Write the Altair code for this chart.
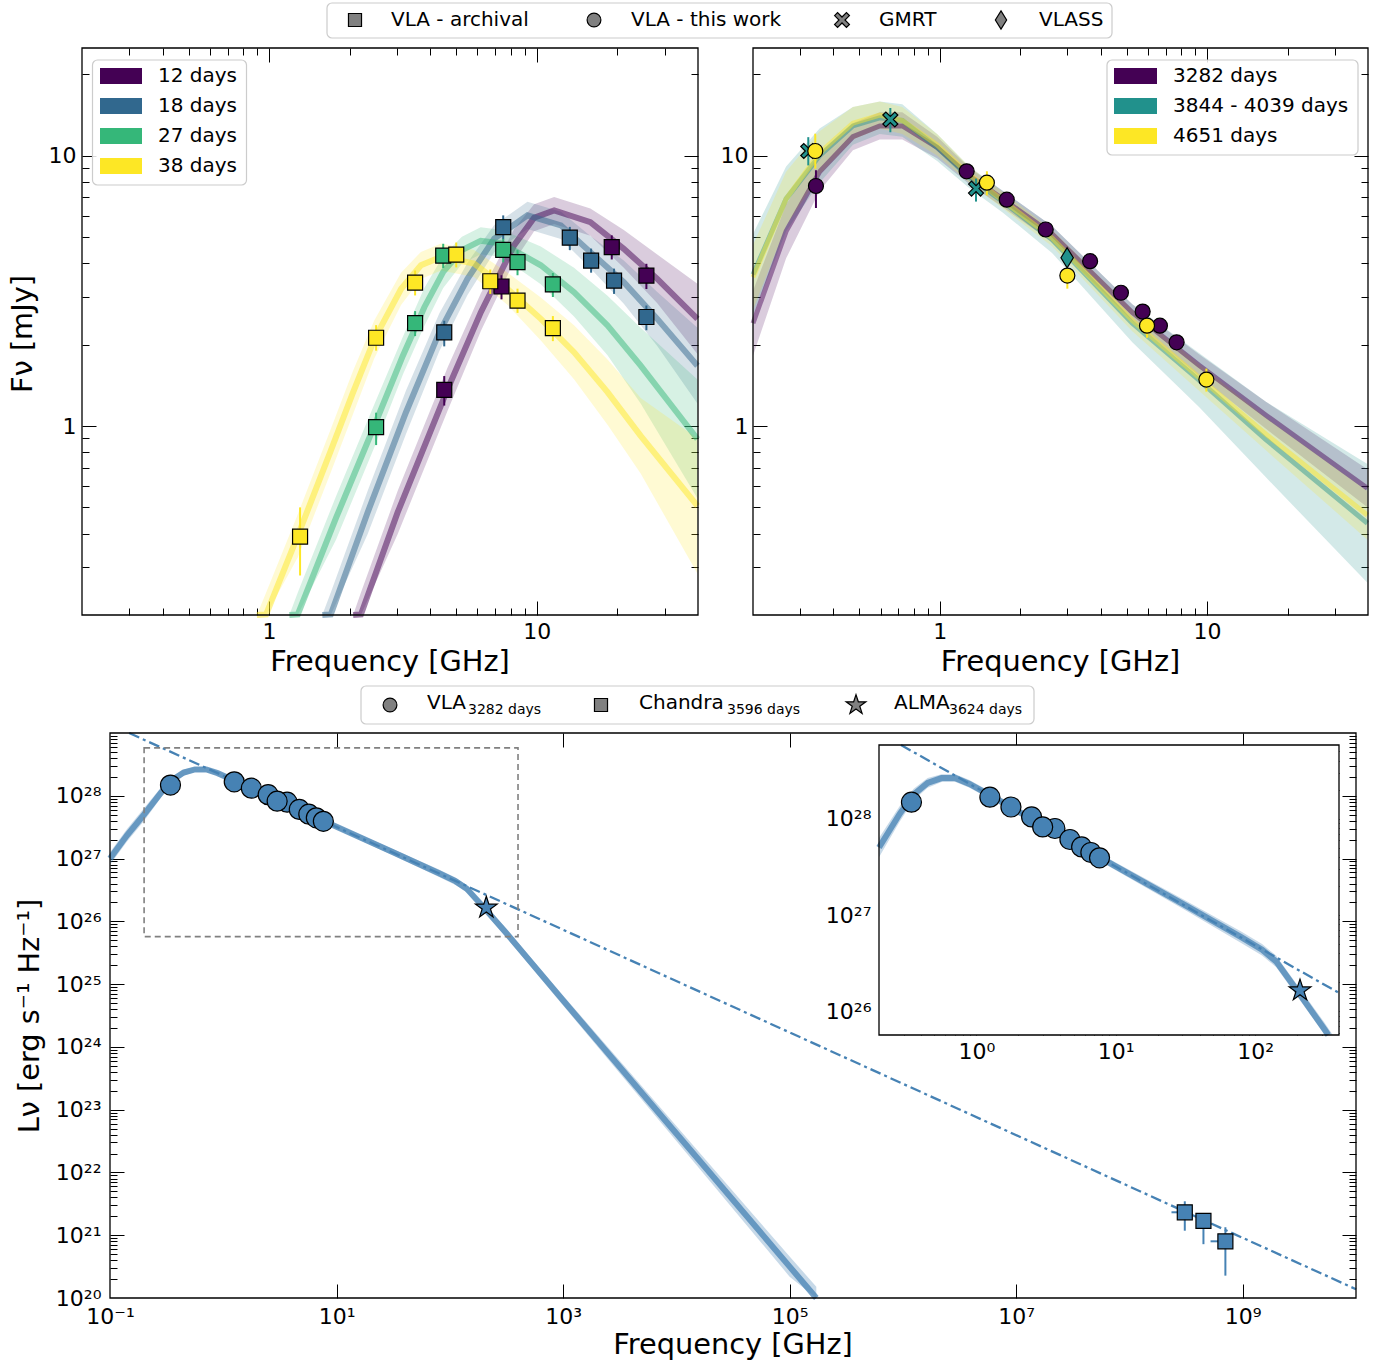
import altair as alt
import pandas as pd

W, H = 1382, 1364
FONT = "DejaVu Sans"

# ======================= DATA =======================
# ---------- top-left panel: early epochs (VLA archival) ----------
TL_EPOCHS = ["12 days", "18 days", "27 days", "38 days"]
TL_COLORS = ["#440154", "#31688e", "#35b779", "#fde725"]

tl12_nu = [4.51, 7.38, 19.05, 25.66]
tl12_F = [1.36, 3.28, 4.59, 3.60]
tl12_lo = [1.19, 2.94, 4.13, 3.21]
tl12_hi = [1.53, 3.61, 5.07, 3.98]

tl18_nu = [4.51, 7.49, 13.28, 15.95, 19.43, 25.66]
tl18_F = [2.22, 5.44, 4.97, 4.09, 3.45, 2.53]
tl18_lo = [1.97, 4.90, 4.47, 3.69, 3.08, 2.26]
tl18_hi = [2.45, 6.01, 5.45, 4.53, 3.82, 2.79]

tl27_nu = [2.51, 3.51, 4.47, 7.49, 8.47, 11.48]
tl27_F = [0.99, 2.40, 4.27, 4.48, 4.04, 3.34]
tl27_lo = [0.85, 2.15, 3.84, 4.03, 3.61, 3.00]
tl27_hi = [1.12, 2.66, 4.72, 4.92, 4.47, 3.68]

tl38_nu = [1.305, 2.51, 3.51, 5.0, 6.70, 8.47, 11.48]
tl38_F = [0.39, 2.12, 3.39, 4.30, 3.43, 2.91, 2.30]
tl38_lo = [0.28, 1.90, 3.04, 3.86, 3.08, 2.62, 2.06]
tl38_hi = [0.50, 2.36, 3.76, 4.77, 3.79, 3.22, 2.55]

# model bundles (centre line and spread)
c12_nu = [2.06, 2.203, 3.02, 4.645, 6.18, 8.22, 9.77, 11.61, 15.85, 21.13, 28.18, 39.8]
c12_F = [0.170, 0.201, 0.479, 1.371, 2.636, 4.656, 5.888, 6.266, 5.675, 4.519, 3.50, 2.489]
c12_lo = [0.142, 0.1675, 0.398, 1.140, 2.244, 4.055, 5.248, 5.585, 5.058, 3.846, 2.844, 1.845]
c12_hi = [0.200, 0.242, 0.575, 1.648, 3.097, 5.346, 6.607, 7.031, 6.368, 5.309, 4.305, 3.357]

c18_nu = [1.58, 1.70, 2.333, 3.243, 4.325, 5.508, 6.934, 9.226, 12.30, 15.85, 21.13, 28.18, 39.8]
c18_F = [0.168, 0.201, 0.479, 1.122, 2.223, 3.50, 4.93, 6.01, 5.52, 4.395, 3.404, 2.489, 1.671]
c18_lo = [0.140, 0.1675, 0.398, 0.933, 1.892, 3.048, 4.395, 5.358, 4.92, 3.828, 2.831, 1.977, 1.211]
c18_hi = [0.200, 0.242, 0.575, 1.349, 2.612, 4.018, 5.534, 6.745, 6.194, 5.047, 4.093, 3.133, 2.307]

c27_nu = [1.19, 1.28, 1.778, 2.47, 3.16, 3.80, 4.47, 5.25, 6.17, 7.41, 10.35, 13.77, 18.37, 24.43, 39.8]
c27_F = [0.168, 0.201, 0.457, 1.0, 1.82, 2.75, 3.715, 4.47, 4.84, 4.73, 3.93, 3.126, 2.355, 1.671, 0.895]
c27_lo = [0.140, 0.1675, 0.380, 0.832, 1.549, 2.344, 3.236, 3.98, 4.315, 4.217, 3.342, 2.541, 1.828, 1.211, 0.540]
c27_hi = [0.200, 0.242, 0.55, 1.202, 2.138, 3.236, 4.266, 5.01, 5.43, 5.31, 4.613, 3.846, 3.034, 2.307, 1.486]

c38_nu = [0.9, 0.975, 1.28, 1.70, 2.05, 2.47, 3.11, 3.69, 4.39, 5.83, 7.78, 10.35, 13.77, 18.37, 24.43, 39.8]
c38_F = [0.165, 0.201, 0.393, 0.811, 1.318, 2.09, 3.21, 3.93, 4.22, 3.99, 3.21, 2.49, 1.875, 1.334, 0.920, 0.507]
c38_lo = [0.138, 0.1675, 0.327, 0.675, 1.096, 1.778, 2.80, 3.50, 3.76, 3.56, 2.80, 2.07, 1.49, 1.01, 0.667, 0.285]
c38_hi = [0.198, 0.242, 0.472, 0.975, 1.585, 2.455, 3.69, 4.405, 4.73, 4.48, 3.69, 2.99, 2.36, 1.76, 1.27, 0.90]

# ---------- top-right panel: late epochs ----------
TR_EPOCHS = ["3282 days", "3844 - 4039 days", "4651 days"]
TR_COLORS = ["#440154", "#21918c", "#fde725"]

tr_p_nu = [0.344, 1.26, 1.78, 2.49, 3.65, 4.76, 5.74, 6.66, 7.69]
tr_p_F = [7.72, 8.75, 6.87, 5.33, 4.07, 3.11, 2.65, 2.35, 2.04]
tr_p_lo = [6.40, 8.55, 6.65, 5.15, 3.93, 3.00, 2.56, 2.27, 1.97]
tr_p_hi = [8.83, 8.95, 7.09, 5.51, 4.21, 3.22, 2.74, 2.43, 2.11]

tr_y_nu = [0.342, 1.50, 3.0, 5.96, 9.94]
tr_y_F = [10.4, 7.94, 3.60, 2.35, 1.485]
tr_y_lo = [8.95, 7.13, 3.22, 2.12, 1.34]
tr_y_hi = [12.05, 8.75, 3.81, 2.49, 1.63]

tr_gmrt_nu = [0.322, 0.653, 1.366]
tr_gmrt_F = [10.4, 13.6, 7.55]
tr_gmrt_lo = [9.2, 12.2, 6.76]
tr_gmrt_hi = [11.7, 15.0, 8.22]

tr_vlass_nu = [2.995]
tr_vlass_F = [4.19]

trc_nu = [0.2, 0.266, 0.355, 0.473, 0.596, 0.724, 0.977, 1.288, 1.718, 2.63, 5.25, 9.33, 16.6, 39.8]
trc_p_F = [2.399, 5.248, 8.71, 11.75, 12.88, 12.88, 10.72, 8.414, 6.918, 5.129, 2.63, 1.679, 1.096, 0.589]
trc_p_lo = [1.82, 4.169, 7.413, 10.47, 11.48, 11.48, 9.772, 7.852, 6.457, 4.786, 2.455, 1.531, 0.977, 0.501]
trc_p_hi = [3.162, 6.607, 10.23, 13.18, 14.45, 14.45, 11.75, 9.016, 7.413, 5.495, 2.818, 1.841, 1.23, 0.692]
trc_t_F = [3.631, 6.918, 10.0, 12.88, 13.8, 13.49, 10.72, 8.318, 6.761, 4.898, 2.399, 1.479, 0.891, 0.437]
trc_t_lo = [2.57, 5.248, 7.943, 10.96, 12.02, 11.75, 9.55, 7.586, 6.166, 4.365, 2.042, 1.175, 0.646, 0.263]
trc_t_hi = [5.129, 9.12, 12.59, 15.14, 15.85, 15.49, 12.02, 9.12, 7.413, 5.495, 2.818, 1.862, 1.23, 0.724]
trc_y_F = [3.548, 6.918, 10.23, 13.18, 14.13, 13.49, 10.96, 8.511, 6.839, 4.955, 2.455, 1.514, 0.933, 0.468]
trc_y_lo = [2.692, 5.495, 8.511, 11.48, 12.59, 12.02, 10.0, 7.943, 6.383, 4.624, 2.239, 1.349, 0.813, 0.380]
trc_y_hi = [4.677, 8.71, 12.3, 15.14, 15.85, 15.14, 12.02, 9.12, 7.328, 5.309, 2.692, 1.698, 1.072, 0.575]

# ---------- bottom panel: broadband SED ----------
vla_nu = [0.342, 1.25, 1.77, 2.49, 3.66, 4.69, 5.69, 6.63, 7.65, 2.99]
vla_L = [1.48e28, 1.67e28, 1.32e28, 1.04e28, 7.9e27, 6.07e27, 5.09e27, 4.45e27, 3.92e27, 8.2e27]
alma_nu = [210.0]
alma_L = [1.65e26]
chandra_nu = [3.08e8, 4.5e8, 7.03e8]
chandra_L = [2.32e21, 1.69e21, 8.0e20]
chandra_nulo = [2.35e8, 4.5e8, 5.2e8]
chandra_nuhi = [3.52e8, 4.5e8, 8.2e8]
chandra_Llo = [1.18e21, 7.2e20, 2.27e20]
chandra_Lhi = [3.47e21, 2.19e21, 1.34e21]

sed_nu = [0.1, 0.1413, 0.1995, 0.2818, 0.3548, 0.4467, 0.5623, 0.7079, 0.8913, 1.259, 1.995, 10.0,
          31.62, 79.43, 112.2, 141.3, 199.5, 316.2, 1000.0, 1.0e4, 1.0e5, 1.72e5]
sed_L = [1.0e27, 2.344e27, 5.012e27, 1.122e28, 1.778e28, 2.344e28, 2.630e28, 2.630e28, 2.291e28, 1.738e28,
         1.189e28, 3.199e27, 1.259e27, 5.888e26, 4.365e26, 3.311e26, 1.660e26, 6.457e25, 5.495e24, 4.169e22,
         3.162e20, 1.0e20]
sed_lo = [7.943e26, 1.862e27, 3.981e27, 9.333e27, 1.549e28, 2.089e28, 2.399e28, 2.399e28, 2.089e28, 1.585e28,
          1.084e28, 2.917e27, 1.122e27, 5.129e26, 3.802e26, 2.884e26, 1.445e26, 5.495e25, 4.571e24, 3.162e22,
          2.188e20, 6.607e19]
sed_hi = [1.259e27, 2.951e27, 6.310e27, 1.349e28, 2.042e28, 2.630e28, 2.884e28, 2.884e28, 2.512e28, 1.905e28,
          1.303e28, 3.508e27, 1.413e27, 6.761e26, 5.012e26, 3.802e26, 1.905e26, 7.586e25, 6.607e24, 5.495e22,
          4.571e20, 1.514e20]
# single power law (dash-dot), where it meets the frame
pl_nu = [0.1476, 1.0e10]
pl_L = [1.0e29, 1.38e20]

# inset (zoom of the dashed box)
ins_nu = [0.2, 0.2818, 0.3548, 0.4467, 0.5623, 0.7079, 0.8913, 1.259, 1.995, 10.0, 31.62, 79.43, 112.2,
          141.3, 199.5, 316.2, 335.0]
ins_L = [5.012e27, 1.122e28, 1.778e28, 2.344e28, 2.630e28, 2.630e28, 2.291e28, 1.738e28, 1.189e28, 3.199e27,
         1.259e27, 5.888e26, 4.365e26, 3.311e26, 1.660e26, 6.457e25, 5.7e25]
insb_nu = [0.2, 0.2818, 0.3548, 0.4467, 0.5623, 0.7079, 0.8913, 1.259, 1.995, 10.0, 31.62, 79.43, 112.2,
           141.3, 199.5, 316.2, 360.0]
insb_lo = [3.981e27, 9.333e27, 1.549e28, 2.089e28, 2.399e28, 2.399e28, 2.089e28, 1.585e28, 1.084e28, 2.917e27,
           1.122e27, 5.129e26, 3.802e26, 2.884e26, 1.445e26, 5.7e25, 5.7e25]
insb_hi = [6.310e27, 1.349e28, 2.042e28, 2.630e28, 2.884e28, 2.884e28, 2.512e28, 1.905e28, 1.303e28, 3.508e27,
           1.413e27, 6.761e26, 5.012e26, 3.802e26, 1.905e26, 7.586e25, 5.75e25]
inspl_nu = [0.2877, 400.0]
inspl_L = [5.8e28, 1.556e26]

# axis domains
TOP_X = [0.2, 40.0]
TOP_Y = [0.2, 25.0]
BM_X = [0.1, 1.0e10]
BM_Y = [1.0e20, 1.0e29]
IN_X = [0.2, 400.0]
IN_Y = [5.7e25, 5.8e28]
box_df = pd.DataFrame({"x": [IN_X[0]], "x2": [IN_X[1]], "y": [IN_Y[0]], "y2": [IN_Y[1]]})

# ======================= LAYOUT / STYLE =======================
TLb = (82, 698, 48, 615)      # left, right, top, bottom (px)
TRb = (753, 1368, 48, 615)
BMb = (110, 1356, 733, 1298)
INb = (879, 1339, 745, 1035)
BLUE = "#4682b4"
TICKFS = 22

X_PATH = "M-1,-0.6L-0.6,-1L0,-0.4L0.6,-1L1,-0.6L0.4,0L1,0.6L0.6,1L0,0.4L-0.6,1L-1,0.6L-0.4,0Z"
DIAMOND = "M0,-1L0.62,0L0,1L-0.62,0Z"
STAR = ("M0,-1L0.2245,-0.309L0.951,-0.309L0.363,0.118L0.588,0.809L0,0.382L-0.588,0.809"
        "L-0.363,0.118L-0.951,-0.309L-0.2245,-0.309Z")

SUPS = "['⁰','¹','²','³','⁴','⁵','⁶','⁷','⁸','⁹']"
E = "round(log(datum.value)/LN10)"
POW_EXPR = ("'10' + (" + E + " < 0 ? '⁻' : '') + (abs(" + E + ") >= 10 ? " + SUPS +
            "[floor(abs(" + E + ")/10)] : '') + " + SUPS + "[abs(" + E + ") % 10]")
LIN_EXPR = "datum.value < 5 ? '1' : '10'"

one = pd.DataFrame({"k": [0]})


def scales(box, xd, yd, clamp):
    L, R, T, B = box
    return (alt.Scale(type="log", domain=xd, range=[L, R], nice=False, clamp=clamp),
            alt.Scale(type="log", domain=yd, range=[B, T], nice=False, clamp=clamp))


def df_of(**cols):
    return pd.DataFrame(cols)


def enc_xy(ch, xs, ys, yf="y"):
    return ch.encode(x=alt.X("x:Q", scale=xs, axis=None), y=alt.Y(yf + ":Q", scale=ys, axis=None))


def band(d, xs, ys, color, op):
    return alt.Chart(d).mark_area(color=color, opacity=op).encode(
        x=alt.X("x:Q", scale=xs, axis=None), y=alt.Y("lo:Q", scale=ys, axis=None), y2="hi:Q")


def line(d, xs, ys, color, width, op, dash=None):
    kw = dict(color=color, strokeWidth=width, opacity=op)
    if dash:
        kw["strokeDash"] = dash
    return enc_xy(alt.Chart(d).mark_line(**kw), xs, ys)


def ebar(d, xs, ys, color):
    return alt.Chart(d).mark_rule(color=color, strokeWidth=2).encode(
        x=alt.X("x:Q", scale=xs, axis=None), y=alt.Y("lo:Q", scale=ys, axis=None), y2="hi:Q")


def pts(d, xs, ys, shape, size, fill):
    return enc_xy(alt.Chart(d).mark_point(shape=shape, size=size, filled=True, fill=fill, stroke="black",
                                          strokeWidth=1.2, opacity=1), xs, ys)


def axes(d, xs, ys, box, xlab, xexpr, xpad, ylab, yexpr, ypad, xmaj, xmin, ymaj, ymin):
    L, R, T, B = box
    base = alt.Chart(d).mark_point(opacity=0, size=0)
    lab = dict(labelFont=FONT, labelFontSize=TICKFS, labelColor="black", labelFlush=False, labelOverlap=False,
               domain=False, grid=False, ticks=False, tickSize=0, title=None)
    out = [base.encode(
        x=alt.X("x:Q", scale=xs, axis=alt.Axis(orient="bottom", offset=B - H, values=xlab, labelExpr=xexpr,
                                                labelPadding=xpad, **lab)),
        y=alt.Y("y:Q", scale=ys, axis=alt.Axis(orient="left", offset=-L, values=ylab, labelExpr=yexpr,
                                                labelPadding=ypad, **lab)))]
    tk = dict(labels=False, domain=False, grid=False, ticks=True, tickColor="black", tickWidth=1, title=None)
    for xo, xoff, yo, yoff in (("top", -B, "right", L - W), ("bottom", T - H, "left", -R)):
        for xv, yv, sz in ((xmaj, ymaj, 14), (xmin, ymin, 7)):
            xa = alt.Axis(orient=xo, offset=xoff, values=xv, tickSize=sz, **tk) if xv else None
            ya = alt.Axis(orient=yo, offset=yoff, values=yv, tickSize=sz, **tk) if yv else None
            out.append(base.encode(x=alt.X("x:Q", scale=xs, axis=xa), y=alt.Y("y:Q", scale=ys, axis=ya)))
    return out


def vtext(txt, x, y, size=20, align="left", angle=0):
    kw = dict(text=txt, fontSize=size, align=align, baseline="middle", font=FONT, color="black")
    if angle:
        kw["angle"] = angle
    return alt.Chart(one).mark_text(**kw).encode(x=alt.value(x), y=alt.value(y))


def vrect(x0, x1, y0, y1, **kw):
    return alt.Chart(one).mark_rect(**kw).encode(x=alt.value(x0), x2=alt.value(x1), y=alt.value(y0),
                                                 y2=alt.value(y1))


def vsym(shape, x, y, size, fill="#808080"):
    return alt.Chart(one).mark_point(shape=shape, size=size, filled=True, fill=fill, stroke="black",
                                     strokeWidth=1.2, opacity=1).encode(x=alt.value(x), y=alt.value(y))


def frame(box):
    L, R, T, B = box
    return vrect(L, R, T, B, filled=False, stroke="black", strokeWidth=1.3)


def legbox(x0, x1, y0, y1):
    return vrect(x0, x1, y0, y1, fill="white", fillOpacity=0.85, stroke="#cccccc", strokeWidth=1.2,
                 cornerRadius=5)


MIN_A = [0.3, 0.4, 0.5, 0.6, 0.7, 0.8, 0.9, 2, 3, 4, 5, 6, 7, 8, 9, 20, 30]
MIN_Y = [0.3, 0.4, 0.5, 0.6, 0.7, 0.8, 0.9, 2, 3, 4, 5, 6, 7, 8, 9, 20]

# ======================= TOP-LEFT =======================
xs, ys = scales(TLb, TOP_X, TOP_Y, True)
tl_curves = [(c12_nu, c12_F, c12_lo, c12_hi), (c18_nu, c18_F, c18_lo, c18_hi),
             (c27_nu, c27_F, c27_lo, c27_hi), (c38_nu, c38_F, c38_lo, c38_hi)]
tl_pts = [(tl12_nu, tl12_F, tl12_lo, tl12_hi), (tl18_nu, tl18_F, tl18_lo, tl18_hi),
          (tl27_nu, tl27_F, tl27_lo, tl27_hi), (tl38_nu, tl38_F, tl38_lo, tl38_hi)]
tl = []
for (n, f, lo, hi), c in zip(tl_curves, TL_COLORS):
    tl.append(band(df_of(x=n, y=f, lo=lo, hi=hi), xs, ys, c, 0.2))
for (n, f, lo, hi), c in zip(tl_curves, TL_COLORS):
    tl.append(line(df_of(x=n, y=f), xs, ys, c, 6, 0.5))
for (n, f, lo, hi), c in zip(tl_pts, TL_COLORS):
    tl.append(ebar(df_of(x=n, y=f, lo=lo, hi=hi), xs, ys, c))
for (n, f, lo, hi), c in zip(tl_pts, TL_COLORS):
    tl.append(pts(df_of(x=n, y=f), xs, ys, "square", 225, c))
tl += axes(df_of(x=tl38_nu, y=tl38_F), xs, ys, TLb, [1, 10], LIN_EXPR, 6, [1, 10], LIN_EXPR, 6,
           [1, 10], MIN_A, [1, 10], MIN_Y)
TL = alt.layer(*tl).resolve_axis(x="independent", y="independent")

# ======================= TOP-RIGHT =======================
xs, ys = scales(TRb, TOP_X, TOP_Y, True)
tr = []
tr_c = [(trc_p_F, trc_p_lo, trc_p_hi), (trc_t_F, trc_t_lo, trc_t_hi), (trc_y_F, trc_y_lo, trc_y_hi)]
for (f, lo, hi), c in zip(tr_c, TR_COLORS):
    tr.append(band(df_of(x=trc_nu, y=f, lo=lo, hi=hi), xs, ys, c, 0.2))
for (f, lo, hi), c in zip(tr_c, TR_COLORS):
    tr.append(line(df_of(x=trc_nu, y=f), xs, ys, c, 5, 0.45))
tr.append(ebar(df_of(x=tr_gmrt_nu, lo=tr_gmrt_lo, hi=tr_gmrt_hi), xs, ys, TR_COLORS[1]))
tr.append(pts(df_of(x=tr_gmrt_nu, y=tr_gmrt_F), xs, ys, X_PATH, 225, TR_COLORS[1]))
tr.append(pts(df_of(x=tr_vlass_nu, y=tr_vlass_F), xs, ys, DIAMOND, 400, TR_COLORS[1]))
tr.append(ebar(df_of(x=tr_p_nu, lo=tr_p_lo, hi=tr_p_hi), xs, ys, TR_COLORS[0]))
tr.append(pts(df_of(x=tr_p_nu, y=tr_p_F), xs, ys, "circle", 225, TR_COLORS[0]))
tr.append(ebar(df_of(x=tr_y_nu, lo=tr_y_lo, hi=tr_y_hi), xs, ys, TR_COLORS[2]))
tr.append(pts(df_of(x=tr_y_nu, y=tr_y_F), xs, ys, "circle", 225, TR_COLORS[2]))
tr += axes(df_of(x=tr_p_nu, y=tr_p_F), xs, ys, TRb, [1, 10], LIN_EXPR, 6, [1, 10], LIN_EXPR, 5,
           [1, 10], MIN_A, [1, 10], MIN_Y)
TR = alt.layer(*tr).resolve_axis(x="independent", y="independent")

# ======================= BOTTOM MAIN =======================
xs, ys = scales(BMb, BM_X, BM_Y, True)
bm_ymin = [float(m) * 10.0 ** e for e in range(20, 29) for m in range(2, 10)]
bm = [
    band(df_of(x=sed_nu, y=sed_L, lo=sed_lo, hi=sed_hi), xs, ys, BLUE, 0.3),
    line(df_of(x=sed_nu, y=sed_L), xs, ys, BLUE, 6, 0.75),
    line(df_of(x=pl_nu, y=pl_L), xs, ys, BLUE, 2.3, 1, [11, 4, 3, 4]),
    alt.Chart(box_df).mark_rect(filled=False, stroke="#808080", strokeWidth=1.6, strokeDash=[6, 4]).encode(
        x=alt.X("x:Q", scale=xs, axis=None), x2="x2:Q", y=alt.Y("y:Q", scale=ys, axis=None), y2="y2:Q"),
    pts(df_of(x=vla_nu, y=vla_L), xs, ys, "circle", 400, BLUE),
    alt.Chart(df_of(x=chandra_nu, lo=chandra_Llo, hi=chandra_Lhi)).mark_rule(color=BLUE, strokeWidth=2).encode(
        x=alt.X("x:Q", scale=xs, axis=None), y=alt.Y("lo:Q", scale=ys, axis=None), y2="hi:Q"),
    alt.Chart(df_of(lo=chandra_nulo, hi=chandra_nuhi, y=chandra_L)).mark_rule(color=BLUE, strokeWidth=2).encode(
        x=alt.X("lo:Q", scale=xs, axis=None), x2="hi:Q", y=alt.Y("y:Q", scale=ys, axis=None)),
    pts(df_of(x=chandra_nu, y=chandra_L), xs, ys, "square", 225, BLUE),
    pts(df_of(x=alma_nu, y=alma_L), xs, ys, STAR, 520, BLUE),
]
bm += axes(df_of(x=vla_nu, y=vla_L), xs, ys, BMb, [0.1, 10, 1e3, 1e5, 1e7, 1e9], POW_EXPR, 8,
           [10.0 ** e for e in range(20, 29)], POW_EXPR, 9,
           [10, 1e3, 1e5, 1e7, 1e9], [], [10.0 ** e for e in range(21, 29)], bm_ymin)
BM = alt.layer(*bm).resolve_axis(x="independent", y="independent")

# ======================= INSET =======================
xs, ys = scales(INb, IN_X, IN_Y, True)
in_xmin = [0.3, 0.4, 0.5, 0.6, 0.7, 0.8, 0.9, 2, 3, 4, 5, 6, 7, 8, 9,
           20, 30, 40, 50, 60, 70, 80, 90, 200, 300]
in_ymin = [6e25, 7e25, 8e25, 9e25] + [float(m) * 10.0 ** e for e in (26, 27) for m in range(2, 10)] + \
          [2e28, 3e28, 4e28, 5e28]
ins = [
    band(df_of(x=insb_nu, lo=insb_lo, hi=insb_hi), xs, ys, BLUE, 0.3),
    line(df_of(x=ins_nu, y=ins_L), xs, ys, BLUE, 6, 0.75),
    line(df_of(x=inspl_nu, y=inspl_L), xs, ys, BLUE, 2.3, 1, [11, 4, 3, 4]),
    pts(df_of(x=vla_nu, y=vla_L), xs, ys, "circle", 400, BLUE),
    pts(df_of(x=alma_nu, y=alma_L), xs, ys, STAR, 520, BLUE),
]
ins += axes(df_of(x=vla_nu, y=vla_L), xs, ys, INb, [1, 10, 100], POW_EXPR, 6, [1e26, 1e27, 1e28], POW_EXPR, 8,
            [1, 10, 100], in_xmin, [1e26, 1e27, 1e28], in_ymin)
INS = alt.layer(*ins).resolve_axis(x="independent", y="independent")

# ======================= LEGENDS & TITLES =======================
deco = [frame(TLb), frame(TRb), frame(BMb)]
inset_bg = vrect(INb[0], INb[1], INb[2], INb[3], fill="white", strokeWidth=0)
deco_in = frame(INb)

legends = [legbox(327, 1112, 3, 38),
           vsym("square", 355, 20, 170), vtext("VLA - archival", 391, 20),
           vsym("circle", 594, 20, 190), vtext("VLA - this work", 631, 20),
           vsym(X_PATH, 842, 20, 220), vtext("GMRT", 879, 20),
           vsym(DIAMOND, 1001, 20, 330), vtext("VLASS", 1039, 20)]
legends.append(legbox(92.5, 246.5, 60, 185))
for i, (lab, c) in enumerate(zip(TL_EPOCHS, TL_COLORS)):
    yc = 76 + 30 * i
    legends += [vrect(100, 142, yc - 8, yc + 8, fill=c), vtext(lab, 158, yc)]
legends.append(legbox(1107, 1358, 60, 155))
for i, (lab, c) in enumerate(zip(TR_EPOCHS, TR_COLORS)):
    yc = 76 + 30 * i
    legends += [vrect(1114, 1157, yc - 8, yc + 8, fill=c), vtext(lab, 1173, yc)]
legends += [legbox(361, 1034, 686, 724),
            vsym("circle", 390, 705, 190), vtext("VLA", 427, 703), vtext("3282 days", 468, 710, 14),
            vsym("square", 601, 705, 170), vtext("Chandra", 639, 703), vtext("3596 days", 727, 710, 14),
            vsym(STAR, 856, 705, 430), vtext("ALMA", 894, 703), vtext("3624 days", 949, 710, 14)]

titles = [vtext("Frequency [GHz]", 390, 662, 28.8, "center"),
          vtext("Frequency [GHz]", 1060.5, 662, 28.8, "center"),
          vtext("Frequency [GHz]", 733, 1345, 28.8, "center"),
          vtext("Fν [mJy]", 22.5, 334, 28.8, "center", 270),
          vtext("Lν [erg s⁻¹ Hz⁻¹]", 30, 1016, 28.8, "center", 270)]

chart = alt.layer(TL, TR, BM, inset_bg, INS, *deco, deco_in, *legends, *titles).resolve_scale(
    x="independent", y="independent"
).properties(
    width=W, height=H, autosize=alt.AutoSizeParams(type="none"), padding=0, background="white"
).configure_view(strokeWidth=0)

chart.save("out.html", embed_options={"renderer": "svg", "actions": False})
